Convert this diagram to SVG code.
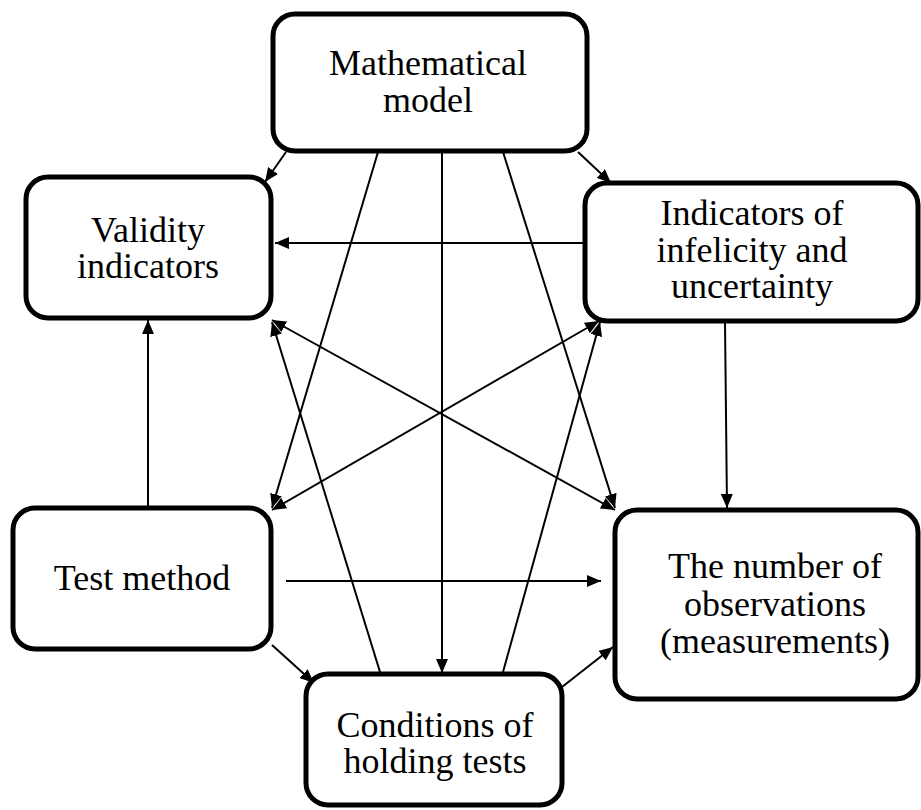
<svg xmlns="http://www.w3.org/2000/svg" width="921" height="810" viewBox="0 0 921 810">
<style>
.box{fill:#fff;stroke:#000;stroke-width:5}
.lbl{font-family:"Liberation Serif","Times New Roman",serif;font-size:36px;fill:#000;text-anchor:middle}
.c line{stroke:#000;stroke-width:2;fill:none}
.a{marker-end:url(#ah)}
.b{marker-start:url(#ah);marker-end:url(#ah)}
</style>
<defs>
<marker id="ah" viewBox="0 0 14 12" refX="14" refY="6" markerWidth="14" markerHeight="12" markerUnits="userSpaceOnUse" orient="auto-start-reverse">
<path d="M0,0 L14,6 L0,12 z" fill="#000"/>
</marker>
</defs>
<rect width="921" height="810" fill="#fff"/>
<g id="connectors" class="c">
<line class="a" x1="286" y1="152" x2="265" y2="182"/>
<line class="a" x1="578" y1="152" x2="611" y2="183"/>
<line class="a" x1="585" y1="243" x2="275" y2="243"/>
<line class="a" x1="148" y1="508" x2="148" y2="320"/>
<line class="a" x1="725" y1="322" x2="727" y2="508"/>
<line class="a" x1="286" y1="581" x2="601" y2="581"/>
<line class="a" x1="442" y1="152" x2="442" y2="673"/>
<line class="a" x1="378" y1="152" x2="272" y2="508"/>
<line class="a" x1="503" y1="152" x2="615" y2="508"/>
<line class="a" x1="380" y1="672" x2="272" y2="322"/>
<line class="a" x1="503" y1="672" x2="600" y2="322"/>
<line class="b" x1="272" y1="320" x2="615" y2="510"/>
<line class="b" x1="272" y1="510" x2="599" y2="321"/>
<line class="a" x1="272" y1="645" x2="314" y2="683"/>
<line class="a" x1="562" y1="687" x2="613" y2="647"/>
</g>
<g id="math">
<rect class="box" x="273" y="14" width="314" height="137" rx="22"/>
<text class="lbl" x="428" y="75">Mathematical</text>
<text class="lbl" x="428" y="112">model</text>
</g>
<g id="validity">
<rect class="box" x="26" y="177" width="245" height="141" rx="22"/>
<text class="lbl" x="148" y="242">Validity</text>
<text class="lbl" x="148" y="278">indicators</text>
</g>
<g id="indicators">
<rect class="box" x="585" y="183" width="333" height="138" rx="22"/>
<text class="lbl" x="752" y="225">Indicators of</text>
<text class="lbl" x="752" y="262">infelicity and</text>
<text class="lbl" x="752" y="298">uncertainty</text>
</g>
<g id="testmethod">
<rect class="box" x="13" y="508" width="258" height="141" rx="22"/>
<text class="lbl" x="142" y="590">Test method</text>
</g>
<g id="number">
<rect class="box" x="615" y="510" width="303" height="189" rx="22"/>
<text class="lbl" x="775" y="578">The number of</text>
<text class="lbl" x="775" y="616">observations</text>
<text class="lbl" x="775" y="653">(measurements)</text>
</g>
<g id="conditions">
<rect class="box" x="306" y="674" width="256" height="131" rx="22"/>
<text class="lbl" x="435" y="737">Conditions of</text>
<text class="lbl" x="435" y="773">holding tests</text>
</g>
</svg>
